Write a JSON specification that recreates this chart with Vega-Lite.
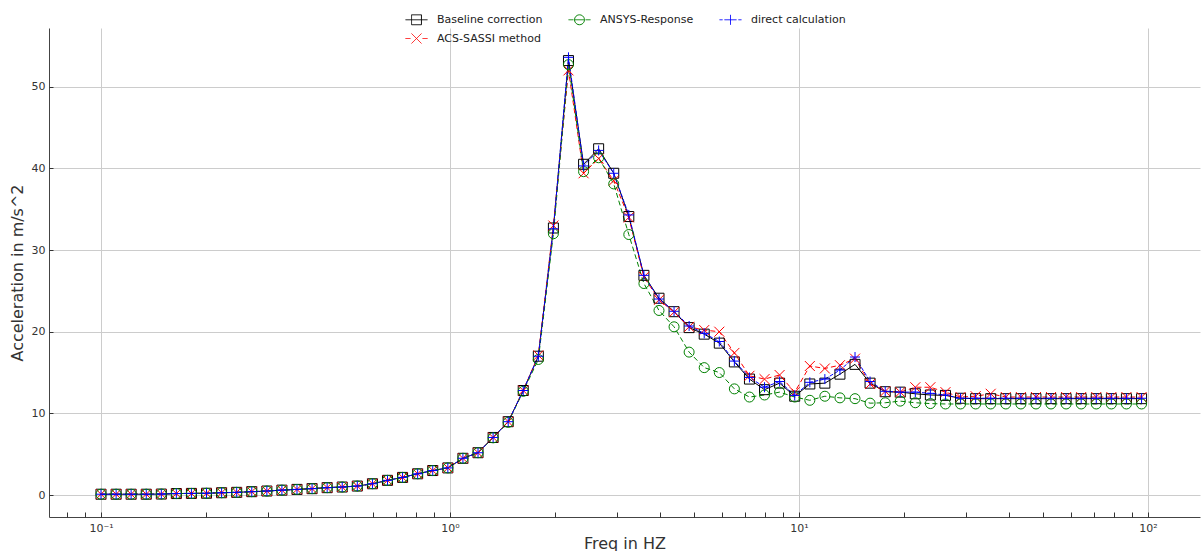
{
  "$schema": "https://vega.github.io/schema/vega-lite/v6.json",
  "width": 1151,
  "height": 489,
  "autosize": {"type": "none"},
  "padding": {"left": 49, "top": 28, "right": 2, "bottom": 34},
  "background": "white",
  "config": {"view": {"stroke": null}, "font": "DejaVu Sans"},
  "data": {"values": [
    {"f": 0.1, "Baseline correction": 0.1, "ACS-SASSI method": 0.1, "ANSYS-Response": 0.1, "direct calculation": 0.1},
    {"f": 0.1105, "Baseline correction": 0.1, "ACS-SASSI method": 0.1, "ANSYS-Response": 0.1, "direct calculation": 0.1},
    {"f": 0.122, "Baseline correction": 0.1, "ACS-SASSI method": 0.1, "ANSYS-Response": 0.1, "direct calculation": 0.1},
    {"f": 0.1348, "Baseline correction": 0.1, "ACS-SASSI method": 0.1, "ANSYS-Response": 0.1, "direct calculation": 0.1},
    {"f": 0.1489, "Baseline correction": 0.12, "ACS-SASSI method": 0.12, "ANSYS-Response": 0.12, "direct calculation": 0.12},
    {"f": 0.1644, "Baseline correction": 0.18, "ACS-SASSI method": 0.18, "ANSYS-Response": 0.18, "direct calculation": 0.18},
    {"f": 0.1816, "Baseline correction": 0.2, "ACS-SASSI method": 0.2, "ANSYS-Response": 0.2, "direct calculation": 0.2},
    {"f": 0.2006, "Baseline correction": 0.22, "ACS-SASSI method": 0.22, "ANSYS-Response": 0.22, "direct calculation": 0.22},
    {"f": 0.2216, "Baseline correction": 0.28, "ACS-SASSI method": 0.28, "ANSYS-Response": 0.28, "direct calculation": 0.28},
    {"f": 0.2448, "Baseline correction": 0.33, "ACS-SASSI method": 0.33, "ANSYS-Response": 0.33, "direct calculation": 0.33},
    {"f": 0.2704, "Baseline correction": 0.41, "ACS-SASSI method": 0.41, "ANSYS-Response": 0.41, "direct calculation": 0.41},
    {"f": 0.2987, "Baseline correction": 0.49, "ACS-SASSI method": 0.49, "ANSYS-Response": 0.49, "direct calculation": 0.49},
    {"f": 0.3299, "Baseline correction": 0.6, "ACS-SASSI method": 0.6, "ANSYS-Response": 0.6, "direct calculation": 0.6},
    {"f": 0.3644, "Baseline correction": 0.69, "ACS-SASSI method": 0.69, "ANSYS-Response": 0.69, "direct calculation": 0.69},
    {"f": 0.4025, "Baseline correction": 0.78, "ACS-SASSI method": 0.78, "ANSYS-Response": 0.78, "direct calculation": 0.78},
    {"f": 0.4446, "Baseline correction": 0.9, "ACS-SASSI method": 0.9, "ANSYS-Response": 0.9, "direct calculation": 0.9},
    {"f": 0.4911, "Baseline correction": 0.98, "ACS-SASSI method": 0.98, "ANSYS-Response": 0.98, "direct calculation": 0.98},
    {"f": 0.5425, "Baseline correction": 1.1, "ACS-SASSI method": 1.1, "ANSYS-Response": 1.1, "direct calculation": 1.1},
    {"f": 0.5995, "Baseline correction": 1.38, "ACS-SASSI method": 1.38, "ANSYS-Response": 1.38, "direct calculation": 1.38},
    {"f": 0.662, "Baseline correction": 1.8, "ACS-SASSI method": 1.8, "ANSYS-Response": 1.8, "direct calculation": 1.8},
    {"f": 0.7313, "Baseline correction": 2.16, "ACS-SASSI method": 2.16, "ANSYS-Response": 2.16, "direct calculation": 2.16},
    {"f": 0.8078, "Baseline correction": 2.6, "ACS-SASSI method": 2.6, "ANSYS-Response": 2.6, "direct calculation": 2.6},
    {"f": 0.8923, "Baseline correction": 3.0, "ACS-SASSI method": 3.0, "ANSYS-Response": 3.0, "direct calculation": 3.0},
    {"f": 0.9859, "Baseline correction": 3.32, "ACS-SASSI method": 3.32, "ANSYS-Response": 3.32, "direct calculation": 3.32},
    {"f": 1.089, "Baseline correction": 4.5, "ACS-SASSI method": 4.5, "ANSYS-Response": 4.5, "direct calculation": 4.5},
    {"f": 1.203, "Baseline correction": 5.18, "ACS-SASSI method": 5.18, "ANSYS-Response": 5.18, "direct calculation": 5.18},
    {"f": 1.329, "Baseline correction": 7.05, "ACS-SASSI method": 7.05, "ANSYS-Response": 7.0, "direct calculation": 7.05},
    {"f": 1.468, "Baseline correction": 8.98, "ACS-SASSI method": 8.98, "ANSYS-Response": 8.9, "direct calculation": 8.98},
    {"f": 1.621, "Baseline correction": 12.8, "ACS-SASSI method": 12.8, "ANSYS-Response": 12.7, "direct calculation": 12.8},
    {"f": 1.791, "Baseline correction": 17.0, "ACS-SASSI method": 17.1, "ANSYS-Response": 16.6, "direct calculation": 17.0},
    {"f": 1.978, "Baseline correction": 32.7, "ACS-SASSI method": 33.0, "ANSYS-Response": 32.0, "direct calculation": 32.6},
    {"f": 2.185, "Baseline correction": 53.2, "ACS-SASSI method": 52.0, "ANSYS-Response": 52.7, "direct calculation": 53.6},
    {"f": 2.414, "Baseline correction": 40.5, "ACS-SASSI method": 39.4, "ANSYS-Response": 39.6, "direct calculation": 40.3},
    {"f": 2.666, "Baseline correction": 42.4, "ACS-SASSI method": 41.2, "ANSYS-Response": 41.3, "direct calculation": 42.2},
    {"f": 2.945, "Baseline correction": 39.4, "ACS-SASSI method": 38.5, "ANSYS-Response": 38.1, "direct calculation": 39.4},
    {"f": 3.253, "Baseline correction": 34.1, "ACS-SASSI method": 34.0, "ANSYS-Response": 31.9, "direct calculation": 34.3},
    {"f": 3.594, "Baseline correction": 26.9, "ACS-SASSI method": 26.7, "ANSYS-Response": 25.9, "direct calculation": 26.9},
    {"f": 3.97, "Baseline correction": 24.1, "ACS-SASSI method": 23.9, "ANSYS-Response": 22.6, "direct calculation": 24.0},
    {"f": 4.385, "Baseline correction": 22.45, "ACS-SASSI method": 22.4, "ANSYS-Response": 20.6, "direct calculation": 22.5},
    {"f": 4.843, "Baseline correction": 20.5, "ACS-SASSI method": 20.6, "ANSYS-Response": 17.5, "direct calculation": 20.7},
    {"f": 5.35, "Baseline correction": 19.7, "ACS-SASSI method": 20.2, "ANSYS-Response": 15.6, "direct calculation": 19.8},
    {"f": 5.91, "Baseline correction": 18.6, "ACS-SASSI method": 20.0, "ANSYS-Response": 15.0, "direct calculation": 18.8},
    {"f": 6.528, "Baseline correction": 16.3, "ACS-SASSI method": 17.4, "ANSYS-Response": 13.0, "direct calculation": 16.4},
    {"f": 7.211, "Baseline correction": 14.2, "ACS-SASSI method": 14.6, "ANSYS-Response": 12.0, "direct calculation": 14.4},
    {"f": 7.965, "Baseline correction": 12.9, "ACS-SASSI method": 14.2, "ANSYS-Response": 12.25, "direct calculation": 13.2},
    {"f": 8.798, "Baseline correction": 13.7, "ACS-SASSI method": 14.7, "ANSYS-Response": 12.6, "direct calculation": 13.9},
    {"f": 9.72, "Baseline correction": 12.1, "ACS-SASSI method": 12.6, "ANSYS-Response": 12.0, "direct calculation": 12.2},
    {"f": 10.74, "Baseline correction": 13.6, "ACS-SASSI method": 15.8, "ANSYS-Response": 11.6, "direct calculation": 13.8},
    {"f": 11.86, "Baseline correction": 13.7, "ACS-SASSI method": 15.5, "ANSYS-Response": 12.1, "direct calculation": 14.2},
    {"f": 13.1, "Baseline correction": 14.8, "ACS-SASSI method": 15.9, "ANSYS-Response": 11.9, "direct calculation": 15.3},
    {"f": 14.47, "Baseline correction": 16.0, "ACS-SASSI method": 16.7, "ANSYS-Response": 11.8, "direct calculation": 16.9},
    {"f": 15.98, "Baseline correction": 13.7, "ACS-SASSI method": 13.6, "ANSYS-Response": 11.25, "direct calculation": 13.9},
    {"f": 17.66, "Baseline correction": 12.65, "ACS-SASSI method": 12.7, "ANSYS-Response": 11.3, "direct calculation": 12.7},
    {"f": 19.5, "Baseline correction": 12.6, "ACS-SASSI method": 12.6, "ANSYS-Response": 11.5, "direct calculation": 12.6},
    {"f": 21.54, "Baseline correction": 12.4, "ACS-SASSI method": 13.2, "ANSYS-Response": 11.3, "direct calculation": 12.6},
    {"f": 23.79, "Baseline correction": 12.25, "ACS-SASSI method": 13.2, "ANSYS-Response": 11.2, "direct calculation": 12.45},
    {"f": 26.28, "Baseline correction": 12.2, "ACS-SASSI method": 12.6, "ANSYS-Response": 11.15, "direct calculation": 12.25},
    {"f": 29.03, "Baseline correction": 11.85, "ACS-SASSI method": 12.0, "ANSYS-Response": 11.15, "direct calculation": 11.85},
    {"f": 32.07, "Baseline correction": 11.8, "ACS-SASSI method": 12.1, "ANSYS-Response": 11.15, "direct calculation": 11.85},
    {"f": 35.42, "Baseline correction": 11.8, "ACS-SASSI method": 12.4, "ANSYS-Response": 11.15, "direct calculation": 11.85},
    {"f": 39.13, "Baseline correction": 11.8, "ACS-SASSI method": 12.0, "ANSYS-Response": 11.15, "direct calculation": 11.85},
    {"f": 43.22, "Baseline correction": 11.8, "ACS-SASSI method": 12.0, "ANSYS-Response": 11.15, "direct calculation": 11.85},
    {"f": 47.74, "Baseline correction": 11.8, "ACS-SASSI method": 12.0, "ANSYS-Response": 11.15, "direct calculation": 11.85},
    {"f": 52.73, "Baseline correction": 11.8, "ACS-SASSI method": 12.0, "ANSYS-Response": 11.15, "direct calculation": 11.85},
    {"f": 58.25, "Baseline correction": 11.8, "ACS-SASSI method": 12.0, "ANSYS-Response": 11.15, "direct calculation": 11.85},
    {"f": 64.34, "Baseline correction": 11.8, "ACS-SASSI method": 12.0, "ANSYS-Response": 11.15, "direct calculation": 11.85},
    {"f": 71.07, "Baseline correction": 11.8, "ACS-SASSI method": 12.0, "ANSYS-Response": 11.15, "direct calculation": 11.85},
    {"f": 78.51, "Baseline correction": 11.8, "ACS-SASSI method": 12.0, "ANSYS-Response": 11.15, "direct calculation": 11.85},
    {"f": 86.72, "Baseline correction": 11.8, "ACS-SASSI method": 12.0, "ANSYS-Response": 11.15, "direct calculation": 11.85},
    {"f": 95.83, "Baseline correction": 11.8, "ACS-SASSI method": 12.0, "ANSYS-Response": 11.15, "direct calculation": 11.85}
  ]},
  "transform": [
    {"fold": ["Baseline correction", "ACS-SASSI method", "ANSYS-Response", "direct calculation"], "as": ["series", "value"]}
  ],
  "layer": [
    {
      "transform": [{"filter": "datum.series === 'Baseline correction'"}],
      "mark": {"type": "line", "strokeWidth": 1},
      "encoding": {
        "x": {"field": "f", "type": "quantitative",
          "scale": {"type": "log", "domain": [0.07096, 140.9], "nice": false},
          "axis": {"orient": "bottom", "values": [0.1, 1, 10, 100],
            "labelExpr": "'10' + (datum.value < 0.5 ? '⁻¹' : datum.value < 5 ? '⁰' : datum.value < 50 ? '¹' : '²')",
            "ticks": false, "grid": true, "gridColor": "#cccccc", "gridWidth": 1,
            "domain": true, "domainColor": "#444444", "domainWidth": 1,
            "labelFont": "DejaVu Sans", "labelFontSize": 11, "labelColor": "#333333", "labelPadding": 5,
            "title": "Freq in HZ", "titleFont": "DejaVu Sans", "titleFontSize": 16, "titleFontWeight": "normal", "titleColor": "#333333", "titlePadding": 2}},
        "y": {"field": "value", "type": "quantitative",
          "scale": {"domain": [-2.69, 57.19], "nice": false, "zero": false},
          "axis": {"orient": "left", "values": [0, 10, 20, 30, 40, 50],
            "ticks": false, "grid": true, "gridColor": "#cccccc", "gridWidth": 1,
            "domain": true, "domainColor": "#444444", "domainWidth": 1,
            "labelFont": "DejaVu Sans", "labelFontSize": 11, "labelColor": "#333333", "labelPadding": 4,
            "title": "Acceleration in m/s^2", "titleFont": "DejaVu Sans", "titleFontSize": 16, "titleFontWeight": "normal", "titleColor": "#333333", "titlePadding": 6}},
        "color": {"field": "series", "type": "nominal",
          "scale": {"domain": ["Baseline correction", "ANSYS-Response", "direct calculation", "ACS-SASSI method"], "range": ["#000000", "#008000", "#0000ff", "#ff0000"]},
          "legend": {
            "orient": "none", "direction": "horizontal", "legendX": 356, "legendY": -20, "columns": 3, "title": null,
            "values": ["Baseline correction", "ANSYS-Response", "direct calculation", "ACS-SASSI method"],
            "labelFont": "DejaVu Sans", "labelFontSize": 11, "labelColor": "#222222",
            "symbolSize": 484, "symbolStrokeWidth": 1, "labelOffset": 9, "columnPadding": 23, "rowPadding": -9, "padding": 0,
            "encode": {"symbols": {"update": {
              "shape": {"signal": "datum.value === 'Baseline correction' ? 'M-1,0H1M-0.45,-0.45H0.45V0.45H-0.45Z' : datum.value === 'ANSYS-Response' ? 'M-1,0H-0.55M-0.45,0H0.45M0.55,0H1M0.45,0A0.45,0.45,0,1,1,-0.45,0A0.45,0.45,0,1,1,0.45,0' : datum.value === 'direct calculation' ? 'M-1,0H-0.72M-0.55,0H0.55M0.72,0H1M0,-0.45V0.45' : 'M-1,0H-0.55M0.55,0H1M-0.45,-0.45L0.45,0.45M-0.45,0.45L0.45,-0.45'"},
              "fill": {"value": "transparent"},
              "strokeDash": {"value": [1, 0]}
            }}}
          }}
      }
    },
    {
      "transform": [{"filter": "datum.series === 'ACS-SASSI method'"}],
      "mark": {"type": "line", "strokeWidth": 1, "color": "#ff0000", "strokeDash": [5, 3]},
      "encoding": {
        "x": {"field": "f", "type": "quantitative", "axis": null},
        "y": {"field": "value", "type": "quantitative", "axis": null}
      }
    },
    {
      "transform": [{"filter": "datum.series === 'ANSYS-Response'"}],
      "mark": {"type": "line", "strokeWidth": 1, "color": "#008000", "strokeDash": [5, 3]},
      "encoding": {
        "x": {"field": "f", "type": "quantitative", "axis": null},
        "y": {"field": "value", "type": "quantitative", "axis": null}
      }
    },
    {
      "transform": [{"filter": "datum.series === 'direct calculation'"}],
      "mark": {"type": "line", "strokeWidth": 1, "color": "#0000ff", "strokeDash": [4, 1.5]},
      "encoding": {
        "x": {"field": "f", "type": "quantitative", "axis": null},
        "y": {"field": "value", "type": "quantitative", "axis": null}
      }
    },
    {
      "mark": {"type": "point", "filled": false, "strokeWidth": 1, "size": 100, "opacity": 1},
      "encoding": {
        "x": {"field": "f", "type": "quantitative",
          "axis": {"orient": "bottom", "values": [0.08, 0.09, 0.1, 0.2, 0.3, 0.4, 0.5, 0.6, 0.7, 0.8, 0.9, 1, 2, 3, 4, 5, 6, 7, 8, 9, 10, 20, 30, 40, 50, 60, 70, 80, 90, 100],
            "labels": false, "grid": false, "domain": false, "ticks": true, "tickSize": -5, "tickColor": "#333333", "tickWidth": 1, "title": null}},
        "y": {"field": "value", "type": "quantitative",
          "axis": {"orient": "left", "values": [0, 10, 20, 30, 40, 50],
            "labels": false, "grid": false, "domain": false, "ticks": true, "tickSize": -4, "tickColor": "#333333", "tickWidth": 1, "title": null}},
        "color": {"field": "series", "type": "nominal",
          "scale": {"domain": ["Baseline correction", "ANSYS-Response", "direct calculation", "ACS-SASSI method"], "range": ["#000000", "#008000", "#0000ff", "#ff0000"]},
          "legend": null},
        "shape": {"field": "series", "type": "nominal",
          "scale": {"domain": ["Baseline correction", "ANSYS-Response", "direct calculation", "ACS-SASSI method"], "range": ["square", "circle", "M-1,0H1M0,-1V1", "M-1,-1L1,1M-1,1L1,-1"]},
          "legend": null}
      }
    }
  ],
  "resolve": {"axis": {"x": "independent", "y": "independent"}, "legend": {"color": "independent", "shape": "independent"}}
}
